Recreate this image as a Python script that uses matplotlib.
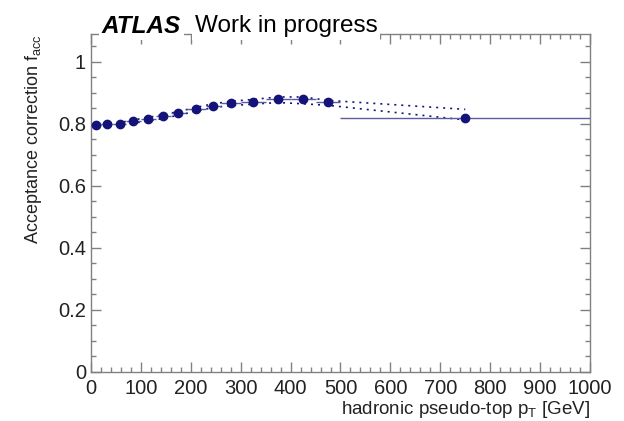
import matplotlib
matplotlib.use('Agg')
import matplotlib.pyplot as plt
from matplotlib.ticker import MultipleLocator
import numpy as np

plt.rcParams['font.family'] = ['Liberation Sans', 'DejaVu Sans']
plt.rcParams['mathtext.default'] = 'regular'

# bin edges of hadronic pseudo-top pT (GeV)
bin_edges = [0, 20, 45, 70, 100, 130, 160, 190, 230, 260, 300, 350, 400, 450, 500, 1000]
# acceptance correction per bin
f_acc = [0.797, 0.799, 0.800, 0.808, 0.815, 0.824, 0.834, 0.847, 0.859, 0.866,
         0.872, 0.879, 0.879, 0.870, 0.818]
# systematic envelope (dotted)
f_up = [0.800, 0.803, 0.804, 0.813, 0.821, 0.830, 0.840, 0.853, 0.865, 0.873,
        0.879, 0.887, 0.887, 0.876, 0.847]
f_down = [0.794, 0.795, 0.796, 0.803, 0.809, 0.818, 0.828, 0.841, 0.853, 0.859,
          0.864, 0.869, 0.865, 0.860, 0.813]

edges = np.array(bin_edges)
centers = 0.5 * (edges[:-1] + edges[1:])
half_w = 0.5 * (edges[1:] - edges[:-1])

fig = plt.figure(figsize=(6.24, 4.21), dpi=100)
ax = fig.add_axes([0.1458, 0.1164, 0.7997, 0.8028])

navy = '#13137a'
ax.plot(centers, f_up, color=navy, lw=1.2, dashes=(1.2, 3.0))
ax.plot(centers, f_down, color=navy, lw=1.2, dashes=(1.2, 3.0))
ax.errorbar(centers, f_acc, xerr=half_w, fmt='o', color=navy, ms=6,
            ecolor='#5c5ca0', elinewidth=1.0, capsize=0, zorder=5)

ax.set_xlim(0, 1000)
ax.set_ylim(0, 1.09)
ax.xaxis.set_major_locator(MultipleLocator(100))
ax.xaxis.set_minor_locator(MultipleLocator(20))
ax.yaxis.set_major_locator(MultipleLocator(0.2))
ax.yaxis.set_minor_locator(MultipleLocator(0.05))
ax.yaxis.set_major_formatter(plt.FuncFormatter(lambda v, p: '%g' % round(v, 2)))

for s in ax.spines.values():
    s.set_color('#808080')
    s.set_linewidth(1.0)
ax.tick_params(which='both', direction='in', top=True, right=True,
               color='#808080', labelsize=14.5, labelcolor='#222222')
ax.tick_params(which='major', length=7.5, width=1.0)
ax.tick_params(which='minor', length=3.5, width=1.0)
ax.tick_params(axis='x', pad=5)

ax.set_xlabel(r'hadronic pseudo-top p$_{T}$ [GeV]', fontsize=13.5,
              loc='right', labelpad=1, color='#222222')
ax.set_ylabel(r'Acceptance correction f$_{acc}$', fontsize=13,
              loc='top', labelpad=10, color='#222222')

# ATLAS label over the top of the frame
fig.text(0.163, 0.938, 'ATLAS', fontsize=17.5, fontweight='bold', style='italic',
         va='center', ha='left',
         bbox=dict(facecolor='white', edgecolor='none', pad=2))
fig.text(0.312, 0.938, 'Work in progress', fontsize=17.5, va='center', ha='left',
         bbox=dict(facecolor='white', edgecolor='none', pad=2))

fig.savefig('out.png', dpi=100)
